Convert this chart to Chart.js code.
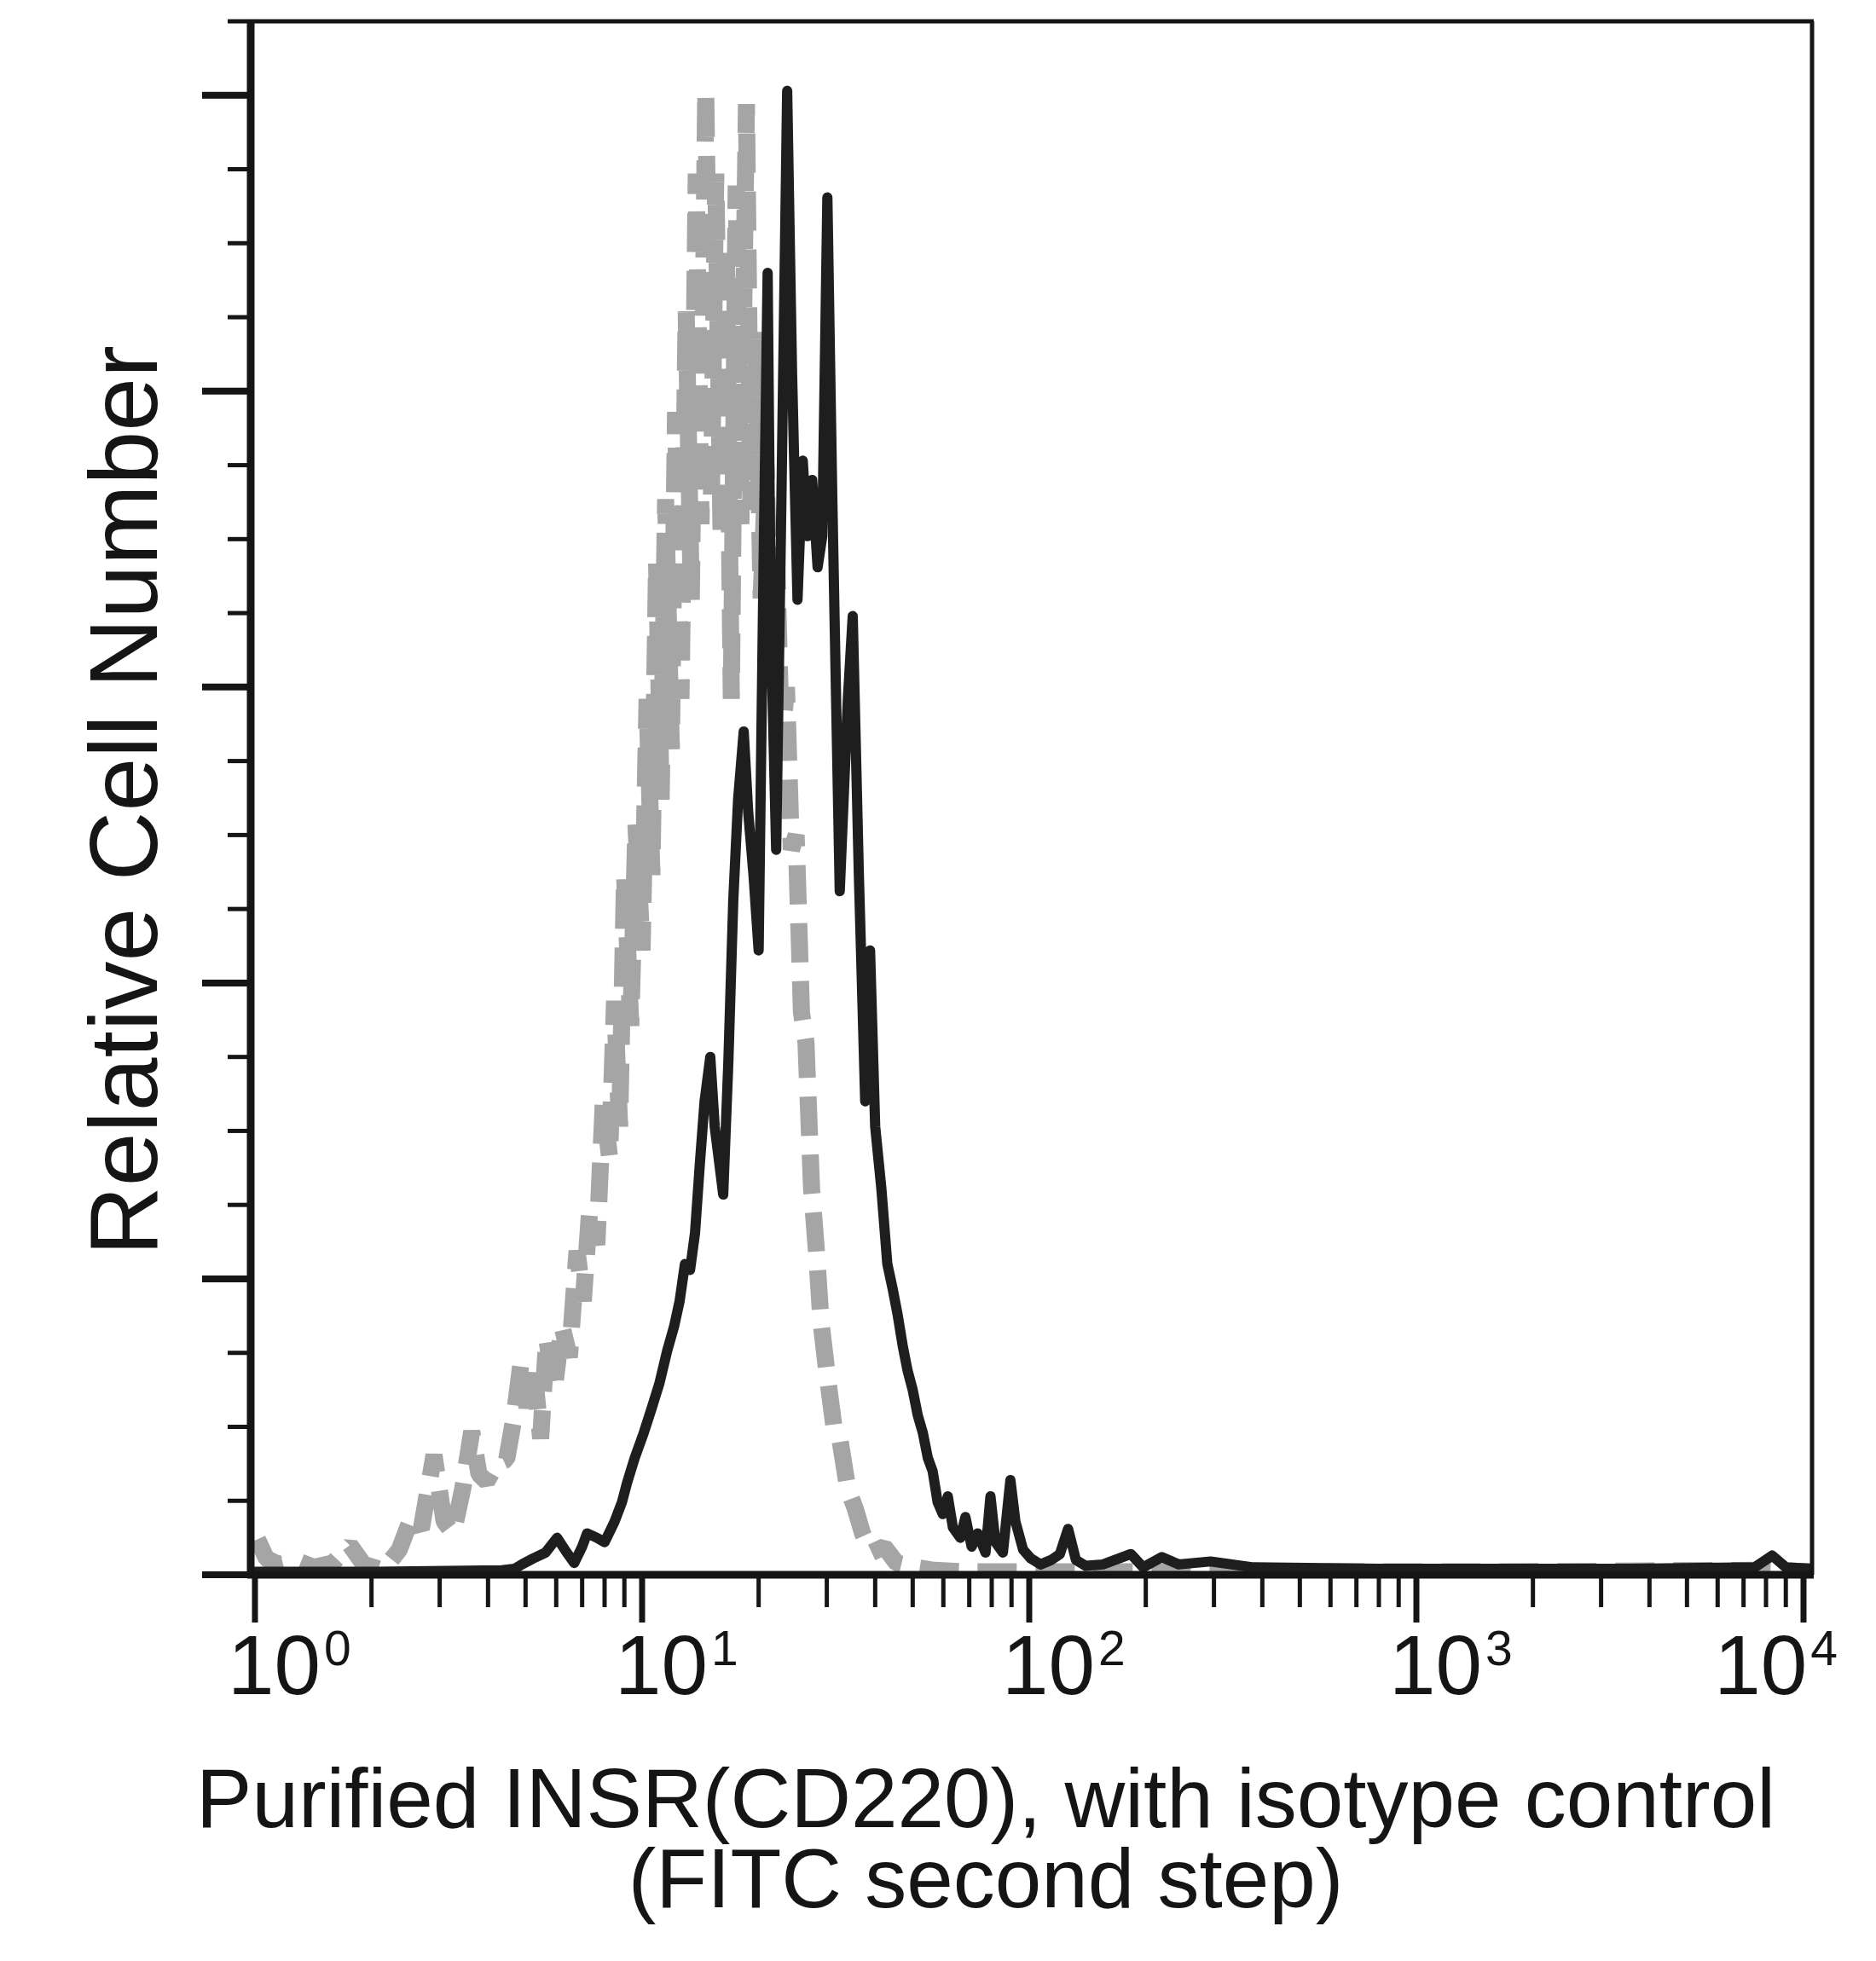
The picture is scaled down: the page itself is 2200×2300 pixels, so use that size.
<!DOCTYPE html>
<html>
<head>
<meta charset="utf-8">
<script src="https://cdn.jsdelivr.net/npm/chart.js@4.4.1/dist/chart.umd.min.js"></script>
<style>
  html, body { margin: 0; padding: 0; background: #ffffff; }
  canvas { display: block; }
</style>
</head>
<body>
<canvas id="c" width="2200" height="2300" style="width:2200px;height:2300px"></canvas>
<script>
// ---------------- DATA ----------------
// Purified INSR (CD220) histogram: fluorescence (x) and relative cell number (y)
const insrX = [1.0, 2.06, 4.34, 4.68, 4.89, 5.23, 5.63, 6.03, 6.39, 6.68, 7.00, 7.21, 7.64, 8.00, 8.49, 8.87, 9.14, 9.57,
  10.1, 10.6, 11.1, 11.6, 12.1, 12.5, 12.9, 13.3, 13.7, 14.1, 14.5, 15.0, 15.4, 15.9, 16.2, 16.7, 17.2, 17.7, 18.3, 18.8,
  19.4, 20.0, 20.6, 21.1, 21.5, 22.2, 22.9, 23.7, 24.4, 25.2, 26.0, 26.7, 27.5, 28.4, 29.2, 30.1, 31.0, 32.4, 34.0, 35.0,
  36.3, 37.7, 38.8, 40.0, 41.5, 43.0, 44.4, 45.7, 47.1, 48.5, 50.0, 51.5, 53.1, 54.7, 56.3, 58.0, 59.8, 61.6, 63.5, 66.4,
  68.4, 71.0, 73.6, 77.1, 79.4, 81.8, 85.5, 89.4, 92.1, 96.4, 101, 107, 114, 120, 126, 132, 140, 155, 183, 197, 220, 243,
  294, 379, 800, 1690, 3550, 7480, 8300, 9010, 10500];
const insrY = [0.2, 0.2, 0.3, 0.4, 0.7, 1.1, 1.5, 2.5, 1.5, 0.8, 1.9, 2.8, 2.5, 2.2, 3.6, 4.9, 6.2, 7.9,
  9.6, 11.3, 13.0, 15.1, 16.8, 18.5, 21.0, 20.6, 23.1, 27.8, 32.0, 35.0, 30.3, 27.4, 25.7, 34.6, 45.6, 52.4, 57.0, 51.5,
  47.3, 42.2, 68.5, 88.0, 64.2, 49.0, 72.7, 100.3, 81.2, 65.9, 75.3, 70.2, 74.0, 68.1, 70.2, 93.1, 72.7, 46.2, 59.2, 64.8,
  47.3, 32.0, 42.2, 30.3, 26.1, 21.0, 19.3, 17.6, 15.5, 13.8, 12.5, 10.8, 9.6, 7.9, 7.0, 4.9, 4.1, 5.3, 3.2, 2.5,
  3.9, 1.9, 2.8, 1.5, 5.3, 2.2, 1.5, 6.4, 3.6, 1.7, 1.1, 0.7, 1.0, 1.4, 3.1, 1.0, 0.6, 0.7, 1.4, 0.5, 1.2, 0.7,
  0.9, 0.5, 0.4, 0.4, 0.4, 0.5, 1.3, 0.5, 0.4];

// Isotype control histogram
const isoX = [1.015, 1.07, 1.15, 1.27, 1.42, 1.59, 1.76, 1.91, 2.14, 2.36, 2.54, 2.69, 2.90, 3.08, 3.25, 3.44, 3.63, 3.79,
  3.97, 4.21, 4.47, 4.68, 4.86, 5.04, 5.27, 5.47, 5.67, 5.93, 6.21, 6.49, 6.79, 7.05, 7.31, 7.64, 7.94, 8.24, 8.49, 8.75,
  9.01, 9.35, 9.64, 10.0, 10.3, 10.6, 10.9, 11.2, 11.5, 11.9, 12.2, 12.6, 13.0, 13.4, 13.8, 14.2, 14.6, 15.1, 15.5, 16.0,
  16.5, 17.0, 17.5, 18.0, 18.6, 19.1, 19.7, 20.3, 20.9, 21.5, 22.2, 22.9, 23.6, 24.3, 25.0, 25.8, 26.5, 27.4, 28.2, 29.0,
  30.1, 31.3, 32.4, 34.0, 35.5, 37.1, 39.1, 42.2, 45.4, 50.8, 56.8, 68.4, 124, 1690, 7480, 10500];
const isoY = [2.4, 1.1, 0.7, 1.0, 0.5, 0.8, 2.0, 0.7, 0.3, 1.7, 3.9, 3.1, 8.1, 3.6, 2.8, 5.8, 9.7, 6.8,
  6.3, 7.5, 7.8, 10.8, 14.2, 11.3, 13.6, 9.2, 16.0, 12.5, 16.8, 14.7, 21.9, 18.5, 24.4, 22.3, 32.0, 28.2, 38.8, 30.3,
  47.3, 37.1, 50.7, 42.2, 59.2, 47.3, 68.5, 52.4, 72.7, 55.8, 78.6, 59.2, 85.4, 65.9, 94.7, 71.0, 100.3, 72.7, 94.7, 70.2,
  89.7, 59.2, 93.9, 71.0, 99.4, 72.0, 84.0, 66.0, 75.0, 62.0, 70.0, 56.0, 60.0, 49.0, 50.0, 38.0, 36.0, 26.1, 21.9, 17.0,
  13.4, 10.0, 9.2, 5.8, 4.5, 2.8, 1.5, 1.9, 0.8, 0.5, 0.3, 0.2, 0.2, 0.2, 0.3, 0.2];

// Axis tick definitions
const xTickExponents = [0, 1, 2, 3, 4];          // labels 10^0 ... 10^4
const xMinorMultipliers = [2, 3, 4, 5, 6, 7, 8, 9];
const yTickValues = [0, 5, 10, 15, 20, 25, 30, 35, 40, 45, 50, 55, 60, 65, 70, 75, 80, 85, 90, 95, 100];
const yMajorStep = 20;

const yTitleText = 'Relative Cell Number';
const xTitleLines = ['Purified INSR(CD220), with isotype control', '(FITC second step)'];

// ---------------- STYLE ----------------
const INK = '#151515';
const FONT = "'Liberation Sans', Arial, Helvetica, sans-serif";

const toPoints = (xs, ys) => xs.map((x, i) => ({ x: x, y: ys[i] }));

const fcsAxesPlugin = {
  id: 'fcsAxes',
  afterDraw(chart) {
    const ctx = chart.ctx;
    const xs = chart.scales.x;
    const ys = chart.scales.y;
    const a = chart.chartArea;
    const seg = (x1, y1, x2, y2) => { ctx.beginPath(); ctx.moveTo(x1, y1); ctx.lineTo(x2, y2); ctx.stroke(); };
    ctx.save();
    ctx.strokeStyle = INK;
    ctx.lineCap = 'butt';

    // frame: top and right
    ctx.lineWidth = 5;
    seg(a.left - 27, a.top, a.right + 2, a.top);
    seg(a.right, a.top, a.right, a.bottom);

    // main axes
    ctx.lineWidth = 9;
    seg(a.left, a.top - 2, a.left, a.bottom + 4);
    seg(a.left - 4, a.bottom, a.right + 2, a.bottom);

    // y tick marks
    ys.ticks.forEach(t => {
      const y = ys.getPixelForValue(t.value);
      ctx.lineWidth = t.major ? 8 : 5;
      seg(a.left - (t.major ? 57 : 27), y, a.left, y);
    });

    // x tick marks
    xs.ticks.forEach(t => {
      const x = xs.getPixelForValue(t.value);
      ctx.lineWidth = t.major ? 7 : 5;
      seg(x, a.bottom, x, a.bottom + (t.major ? 56 : 38));
    });

    // x tick labels 10^n
    ctx.fillStyle = INK;
    ctx.textAlign = 'left';
    ctx.textBaseline = 'alphabetic';
    xTickExponents.forEach(e => {
      const x = xs.getPixelForValue(Math.pow(10, e));
      ctx.font = '98px ' + FONT;
      const wBase = ctx.measureText('10').width;
      ctx.font = '57px ' + FONT;
      const wExp = ctx.measureText(String(e)).width;
      const total = wBase + 4 + wExp;
      const start = Math.min(x - 32, a.right + 30 - total);
      ctx.font = '98px ' + FONT;
      ctx.fillText('10', start, a.bottom + 140);
      ctx.font = '57px ' + FONT;
      ctx.fillText(String(e), start + wBase + 4, a.bottom + 106);
    });

    // x axis title
    ctx.textAlign = 'center';
    ctx.font = '98px ' + FONT;
    const cx = 1156;
    ctx.fillText(xTitleLines[0], cx, a.bottom + 296);
    ctx.fillText(xTitleLines[1], cx, a.bottom + 390);

    // y axis title
    ctx.save();
    ctx.translate(184, (a.top + a.bottom) / 2 + 3);
    ctx.rotate(-Math.PI / 2);
    ctx.font = '113px ' + FONT;
    ctx.textAlign = 'center';
    ctx.fillText(yTitleText, 0, 0);
    ctx.restore();

    ctx.restore();
  }
};

new Chart(document.getElementById('c'), {
  type: 'scatter',
  data: {
    datasets: [
      {
        label: 'Purified INSR(CD220)',
        data: toPoints(insrX, insrY),
        showLine: true,
        borderColor: '#1e1e1e',
        borderWidth: 12,
        pointRadius: 0,
        borderJoinStyle: 'round',
        borderCapStyle: 'round',
        tension: 0,
        order: 0
      },
      {
        label: 'Isotype control',
        data: toPoints(isoX, isoY),
        showLine: true,
        borderColor: '#a5a5a5',
        borderWidth: 20,
        borderDash: [46, 22],
        pointRadius: 0,
        borderJoinStyle: 'bevel',
        tension: 0,
        order: 1
      }
    ]
  },
  options: {
    responsive: false,
    animation: false,
    devicePixelRatio: 1,
    layout: { padding: { left: 0, top: 25, right: 75, bottom: 0 } },
    plugins: { legend: { display: false }, tooltip: { enabled: false }, title: { display: false } },
    scales: {
      x: {
        type: 'logarithmic',
        min: 0.975,
        max: 10520,
        grid: { display: false },
        border: { display: false },
        ticks: { display: false },
        afterBuildTicks: (scale) => {
          const ticks = [];
          xTickExponents.forEach(e => {
            const d = Math.pow(10, e);
            ticks.push({ value: d, major: true });
            if (e < xTickExponents[xTickExponents.length - 1]) {
              xMinorMultipliers.forEach(m => ticks.push({ value: m * d, major: false }));
            }
          });
          scale.ticks = ticks;
        },
        afterFit: (scale) => { scale.height = 453; scale.paddingLeft = 0; scale.paddingRight = 0; }
      },
      y: {
        type: 'linear',
        min: 0,
        max: 105,
        grid: { display: false },
        border: { display: false },
        ticks: { display: false },
        afterBuildTicks: (scale) => {
          scale.ticks = yTickValues.map(v => ({ value: v, major: v % yMajorStep === 0 }));
        },
        afterFit: (scale) => { scale.width = 294; scale.paddingTop = 0; scale.paddingBottom = 0; }
      }
    }
  },
  plugins: [fcsAxesPlugin]
});
</script>
</body>
</html>
